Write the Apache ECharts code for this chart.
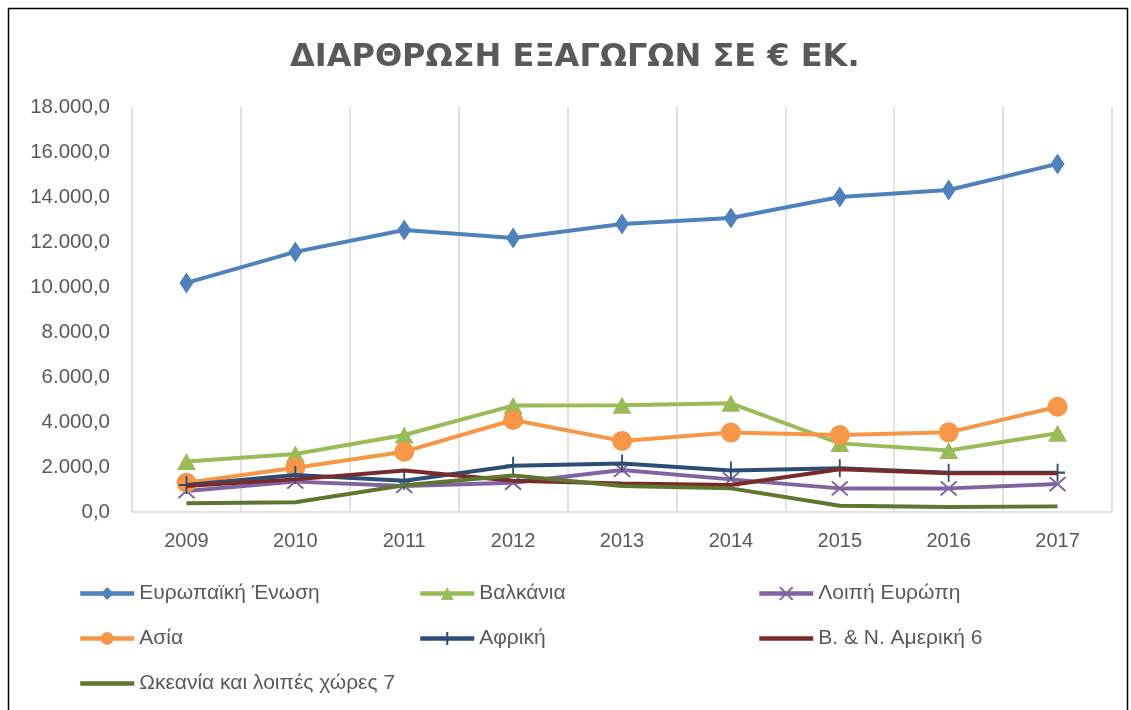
<!DOCTYPE html>
<html>
<head>
<meta charset="utf-8">
<script src="https://cdn.jsdelivr.net/npm/echarts@6/dist/echarts.min.js"></script>
<style>
	html, body { margin: 0; padding: 0; background: #fff; }
	#chart { width: 1131px; height: 710px; }
</style>
</head>
<body>
<div id="chart"></div>
<script>
// 1 data
var years = ['2009', '2010', '2011', '2012', '2013', '2014', '2015', '2016', '2017'];
var seriesNames = ['Ευρωπαϊκή Ένωση', 'Βαλκάνια', 'Λοιπή Ευρώπη', 'Ασία', 'Αφρική', 'Β. & Ν. Αμερική 6', 'Ωκεανία και λοιπές χώρες 7'];
var euValues = [10180, 11560, 12530, 12180, 12800, 13070, 14000, 14310, 15470];
var balkanValues = [2240, 2580, 3420, 4730, 4740, 4830, 3050, 2730, 3500];
var otherEuropeValues = [930, 1350, 1160, 1300, 1870, 1450, 1050, 1050, 1240];
var asiaValues = [1300, 1970, 2680, 4090, 3160, 3530, 3420, 3540, 4680];
var africaValues = [1200, 1640, 1390, 2060, 2160, 1840, 1940, 1750, 1750];
var americaValues = [1160, 1450, 1840, 1390, 1270, 1200, 1900, 1720, 1720];
var oceaniaValues = [390, 430, 1190, 1620, 1160, 1050, 280, 220, 250];
var yTicks = [0, 2000, 4000, 6000, 8000, 10000, 12000, 14000, 16000, 18000];

var colors = ['#4F81BD', '#9BBB59', '#8064A2', '#F79646', '#2C4D75', '#772C2A', '#5F7530'];
var textColor = '#595959';
var fontName = 'Liberation Sans';
// plain line icon for series drawn without markers
var barIcon = 'path://M0,0 L54,0 L54,4.5 L0,4.5 Z';

// 2 greek style number: 18.000,0
function fmt(v) {
	var s = String(Math.round(v));
	return s.replace(/\B(?=(\d{3})+(?!\d))/g, '.') + ',0';
}

function makeSeries(idx, data, symbol, size, extra) {
	var s = {
		name: seriesNames[idx],
		type: 'line',
		data: data,
		symbol: symbol,
		symbolSize: size,
		lineStyle: { width: 4, color: colors[idx] },
		itemStyle: { color: colors[idx] },
		z: 2 + idx
	};
	if (extra) {
		s.itemStyle.borderColor = colors[idx];
		s.itemStyle.borderWidth = extra;
	}
	return s;
}

var myChart = echarts.init(document.getElementById('chart'));
var legendBase = {
	orient: 'vertical',
	itemWidth: 54,
	itemHeight: 16,
	itemGap: 24,
	lineStyle: { width: 4.5 },
	textStyle: { color: textColor, fontSize: 21, fontFamily: fontName }
};
var option = {
	animation: false,
	backgroundColor: '#fff',
	title: {
		text: 'ΔΙΑΡΘΡΩΣΗ ΕΞΑΓΩΓΩΝ ΣΕ € ΕΚ.',
		left: 285,
		top: 37,
		textStyle: { color: textColor, fontSize: 32, fontWeight: 'bold', fontFamily: 'DejaVu Sans' }
	},
	graphic: [{
		type: 'rect',
		shape: { x: 8.5, y: 8.5, width: 1119, height: 720 },
		style: { fill: 'none', stroke: '#000', lineWidth: 1.5 },
		silent: true
	}],
	legend: [
		Object.assign({ left: 73, top: 578, data: [seriesNames[0], seriesNames[3], { name: seriesNames[6], icon: barIcon }] }, legendBase),
		Object.assign({ left: 413, top: 578, data: [seriesNames[1], seriesNames[4]] }, legendBase),
		Object.assign({ left: 752, top: 578, data: [seriesNames[2], { name: seriesNames[5], icon: barIcon }] }, legendBase)
	],
	grid: { left: 132, right: 19, top: 107, bottom: 198 },
	xAxis: {
		type: 'category',
		data: years,
		boundaryGap: true,
		axisLine: { show: true, lineStyle: { color: '#D9D9D9', width: 1.5 } },
		axisTick: { show: false },
		axisLabel: { color: textColor, fontSize: 20, fontFamily: fontName, margin: 19 },
		splitLine: { show: true, showMinLine: true, showMaxLine: true, lineStyle: { color: '#D9D9D9', width: 1.5 } }
	},
	yAxis: {
		type: 'value',
		min: 0,
		max: 18000,
		interval: 2000,
		axisLine: { show: false },
		axisTick: { show: false },
		splitLine: { show: false },
		axisLabel: {
			color: textColor, fontSize: 20.5, fontFamily: fontName, margin: 22,
			formatter: function (v) { return yTicks.indexOf(v) >= 0 ? fmt(v) : ''; }
		}
	},
	series: [
		makeSeries(0, euValues, 'diamond', [14, 21]),
		makeSeries(1, balkanValues, 'triangle', [19, 17]),
		makeSeries(2, otherEuropeValues, 'path://M0,0 L10,10 M10,0 L0,10', [16, 14], 2),
		makeSeries(3, asiaValues, 'circle', 20),
		makeSeries(4, africaValues, 'path://M5,0 L5,10 M0,5 L10,5', [15, 18], 2),
		makeSeries(5, americaValues, 'none', 0),
		makeSeries(6, oceaniaValues, 'none', 0)
	]
};
myChart.setOption(option);
</script>
</body>
</html>
